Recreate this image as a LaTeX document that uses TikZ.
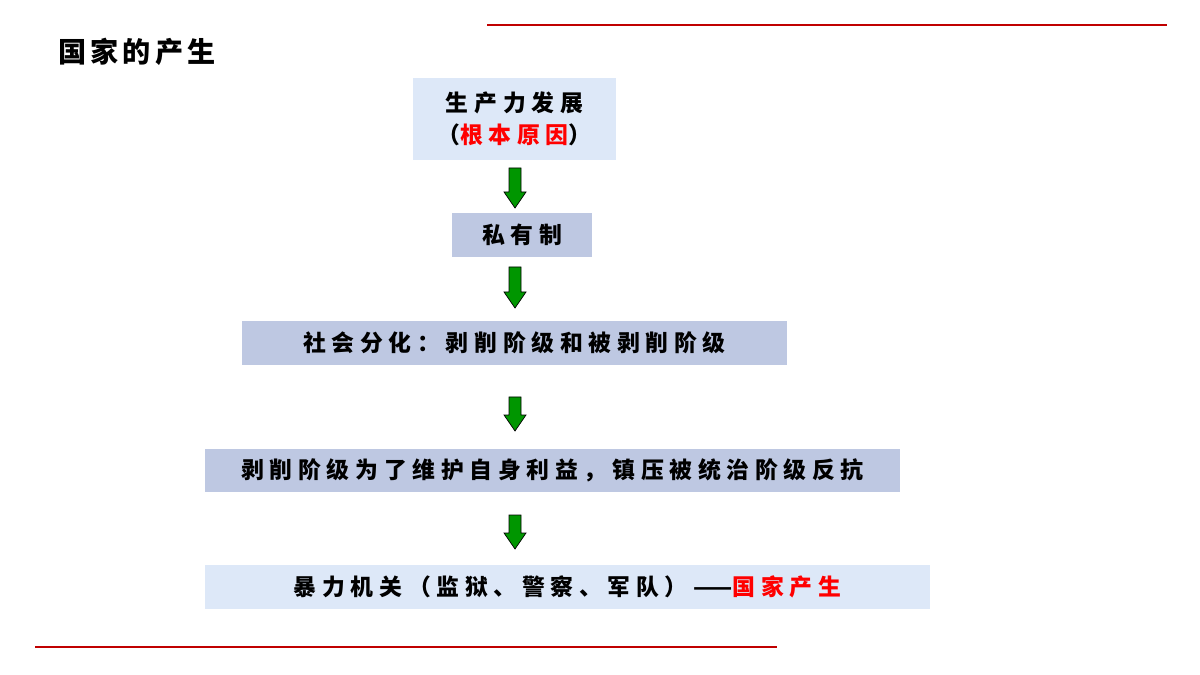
\documentclass[tikz,border=0pt]{standalone}
\usepackage{fontspec}
\setmainfont{Noto Sans CJK SC}
\newfontfamily\cjk[LetterSpace=25]{Noto Sans CJK SC}
\newfontfamily\cjktitle[LetterSpace=15]{Noto Sans CJK SC}
\usetikzlibrary{positioning}
\definecolor{lightbox}{RGB}{221,232,248}
\definecolor{darkbox}{RGB}{190,200,226}
\definecolor{rule}{RGB}{192,0,0}
\definecolor{arrowgreen}{RGB}{0,150,0}

\begin{document}
\begin{tikzpicture}[x=0.02cm, y=-0.02cm,
    box/.style={inner sep=0pt, font=\cjk\bfseries\fontsize{13}{18}\selectfont, align=center},
    down/.style={draw=black, fill=arrowgreen, line width=0.4pt}]
    \useasboundingbox (0,0) rectangle (1200,675);

    % rules
    \draw[rule, line width=0.6pt] (487,25) -- (1167,25);
    \draw[rule, line width=0.6pt] (35,647) -- (777,647);

    % title
    \node[font=\cjktitle\bfseries\fontsize{16}{20}\selectfont, anchor=west] (title) at (52,52) {国家的产生};

    % boxes
    \node[box, fill=lightbox, minimum width=4.06cm, minimum height=1.64cm] (force) at (514.5,119) {生产力发展\\（\textcolor{red}{根本原因}）};
    \node[box, fill=darkbox, minimum width=2.8cm, minimum height=0.88cm] (private) at (522,235) {私有制};
    \node[box, fill=darkbox, minimum width=10.9cm, minimum height=0.88cm] (classes) at (514.5,343) {社会分化：剥削阶级和被剥削阶级};
    \node[box, fill=darkbox, minimum width=13.9cm, minimum height=0.86cm] (oppress) at (552.5,470.5) {剥削阶级为了维护自身利益，镇压被统治阶级反抗};
    \node[box, fill=lightbox, minimum width=14.5cm, minimum height=0.88cm] (state) at (567.5,587) {暴力机关（监狱、警察、军队）——\textcolor{red}{国家产生}};

    % arrows
    \foreach \top/\bot in {168/208, 267/308, 397/431, 515/549} {
        \draw[down] (509,\top) -- (521,\top) -- (521,\bot-16) -- (526,\bot-16)
            -- (515,\bot) -- (504,\bot-16) -- (509,\bot-16) -- cycle;
    }
\end{tikzpicture}
\end{document}
